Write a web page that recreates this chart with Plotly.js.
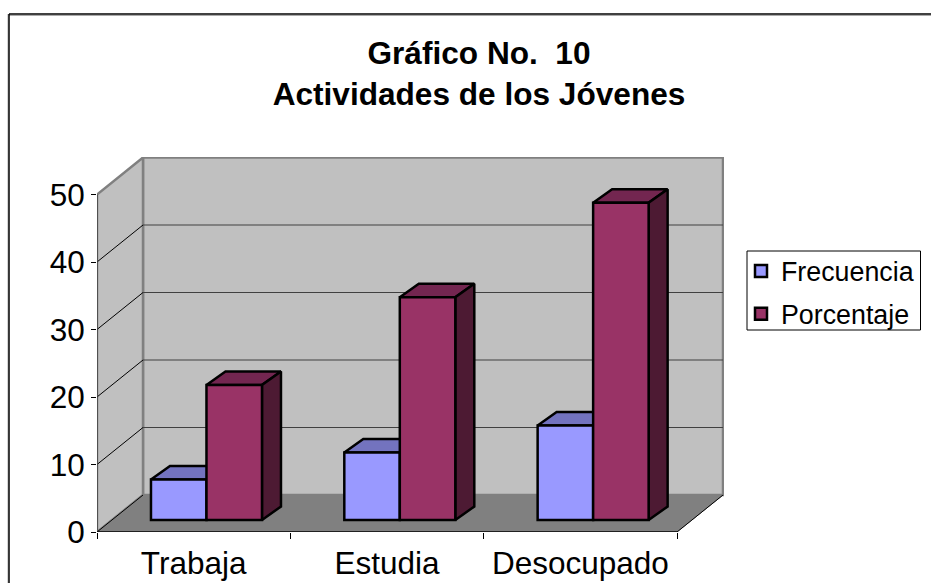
<!DOCTYPE html>
<html><head><meta charset="utf-8">
<script src="https://cdn.plot.ly/plotly-3.0.1.min.js"></script>
<style>html,body{margin:0;padding:0;background:#fff}</style>
</head><body><div id="chart" style="width:931px;height:583px"></div>
<script>
const categories = ['Trabaja','Estudia','Desocupado'];
const frecuencia = [6,10,14];
const porcentaje = [20,33,47];
const yTicks = [0,10,20,30,40,50];

const W=931,H=583,L=97,R=724,T=157,B=532;
const catPx=(677-97)/3, unitPx=6.75;
const xr=[-0.5,-0.5+(R-L)/catPx], yr=[0,(B-T)/unitPx];
const dxU=46/catPx, dyU=37/unitPx;         // wall depth
const bdx=19/catPx, bdy=13.5/unitPx;       // bar depth
const barW=55.5/catPx, shift=12.8/catPx, base=12/unitPx;
const GRAY='#808080', WALL='#c0c0c0';
const px=v=>(v-L)/(R-L), py=v=>(B-v)/(B-T);

const shapes=[];
const poly=(pts,fill,lc,lw)=>shapes.push({type:'path',xref:'x',yref:'y',layer:'below',
  path:'M'+pts.map(p=>p[0]+','+p[1]).join('L')+'Z',fillcolor:fill,line:{color:lc,width:lw}});
const seg=(x0,y0,x1,y1,c,w)=>shapes.push({type:'line',xref:'x',yref:'y',layer:'below',x0,y0,x1,y1,line:{color:c,width:w}});
const pline=(a,b,c,d,col,w)=>shapes.push({type:'line',xref:'paper',yref:'paper',layer:'below',x0:px(a),y0:py(b),x1:px(c),y1:py(d),line:{color:col,width:w}});
const xa=-0.5,xb=2.5,yMax=yTicks[yTicks.length-1];
poly([[xa+dxU,dyU],[xa+dxU,yMax+dyU],[xb+dxU,yMax+dyU],[xb+dxU,dyU]],WALL,GRAY,2.5);
poly([[xa,0],[xa,yMax],[xa+dxU,yMax+dyU],[xa+dxU,dyU]],WALL,GRAY,2.5);
poly([[xa,0],[xa+dxU,dyU],[xb+dxU,dyU],[xb,0]],GRAY,GRAY,1);
yTicks.slice(1).forEach(v=>{
  if(v<yMax) seg(xa+dxU,v+dyU,xb+dxU,v+dyU,'#404040',1);
  if(v<yMax) seg(xa,v,xa+dxU,v+dyU,'#000',1);
});
seg(xa,0,xa+dxU,dyU,'#000',1);
seg(xa,0,xa,yMax,'#404040',1.5);
seg(xa,0,xb,0,'#000',1.5);
seg(xb,0,xb+dxU,dyU,'#000',1);

// outer frame
pline(9,15.5,931,15.5,'#aaa',1);
pline(8,14,8,583,'#aaa',1);
pline(9,14,931,14,'#000',1.5);
pline(9,14,9,583,'#000',1.5);
// legend box
shapes.push({type:'rect',xref:'paper',yref:'paper',layer:'below',x0:px(747),x1:px(920.5),y0:py(251),y1:py(330),fillcolor:'#fff',line:{color:'#000',width:1}});

const face=(xs,ys,fill,z)=>({type:'scatter',mode:'lines',x:[...xs,xs[0]],y:[...ys,ys[0]],fill:'toself',fillcolor:fill,
  line:{color:'#000',width:2.5},hoverinfo:'skip',showlegend:false,zorder:z});
const traces=[];
const addSeries=(name,vals,off,color,topC,sideC,z)=>{
  const bx=categories.map((_,i)=>i+shift+off*barW);
  vals.forEach((v,i)=>{
    const a=bx[i]-barW/2,b=bx[i]+barW/2,t=v+base;
    traces.push(face([a,a+bdx,b+bdx,b],[t,t+bdy,t+bdy,t],topC,z));
    traces.push(face([b,b+bdx,b+bdx,b],[base,base+bdy,t+bdy,t],sideC,z));
  });
  traces.push({type:'bar',name,legendgroup:name,x:bx,y:vals,base:categories.map(()=>base),width:barW,
    marker:{color,line:{color:'#000',width:2.5}},zorder:z+1,hoverinfo:'y'});
};
addSeries('Frecuencia',frecuencia,-0.5,'#9999ff','#7373bf','#4d4d80',1);
addSeries('Porcentaje',porcentaje,0.5,'#993366','#732650','#4d1a33',3);

const layout={
  width:W,height:H,margin:{l:L,r:W-R,t:T,b:H-B,pad:0},autosize:false,
  paper_bgcolor:'#fff',plot_bgcolor:'rgba(0,0,0,0)',barmode:'overlay',showlegend:true,
  font:{family:'Liberation Sans, Arial, sans-serif',color:'#000'},
  title:{text:'Gráfico No.&nbsp; 10<br>Actividades de los Jóvenes',
    font:{size:31.6,weight:700,family:'Liberation Sans',color:'#000'},x:479/W,xanchor:'center',y:1-64/H,yanchor:'middle'},
  xaxis:{range:xr,showgrid:false,zeroline:false,showline:false,tickmode:'array',
    tickvals:categories.map((_,i)=>i),ticktext:categories,ticks:'',tickfont:{size:31.5},ticklabelstandoff:9,
    minor:{tickmode:'array',tickvals:[-0.5,0.5,1.5,2.5],ticks:'outside',ticklen:6,tickcolor:'#000',tickwidth:1,showgrid:false}},
  yaxis:{range:yr,showgrid:false,zeroline:false,showline:false,tickmode:'array',tickvals:yTicks,
    ticks:'outside',ticklen:5,tickcolor:'#000',tickwidth:1,tickfont:{size:31.5}},
  legend:{xref:'container',yref:'container',x:741/W,y:1-247/H,xanchor:'left',yanchor:'top',bgcolor:'rgba(0,0,0,0)',borderwidth:0,
    font:{size:26.8},traceorder:'grouped',tracegroupgap:5,itemclick:false,itemdoubleclick:false},
  shapes
};
Plotly.newPlot('chart',traces,layout,{displayModeBar:false,staticPlot:true});
</script></body></html>
